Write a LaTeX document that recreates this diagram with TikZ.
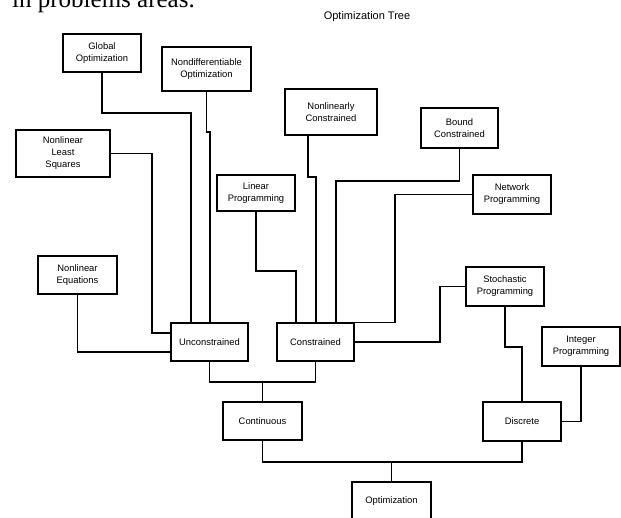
\documentclass[tikz,border=0pt]{standalone}
\usepackage{fontspec}
\setmainfont{Liberation Sans}
\newfontfamily\serifpage{Liberation Serif}
\begin{document}
\begin{tikzpicture}[x=1pt,y=-1pt,
  box/.style={draw,line width=1.3pt,rectangle,inner sep=0pt,align=center,
    font=\fontsize{9.4}{12}\selectfont},
  link/.style={line width=1.3pt}]
\useasboundingbox (0,0) rectangle (621,518);
\clip (0,0) rectangle (621,518);
% clipped running text of the page
\node[anchor=base west,inner sep=0pt,font=\serifpage\fontsize{25}{25}\selectfont] (pagetext) at (12,8) {in problems areas.};
% title
\node[font=\fontsize{11}{13}\selectfont] (title) at (367,17) {Optimization Tree};
% boxes
\node[box,minimum width=78pt,minimum height=38pt] (glob) at (102,53) {Global\\Optimization};
\node[box,minimum width=89pt,minimum height=44pt] (nondiff) at (206.5,69) {Nondifferentiable\\Optimization};
\node[box,minimum width=94pt,minimum height=47pt] (nlls) at (63,153.5) {Nonlinear\\Least\\Squares};
\node[box,minimum width=79pt,minimum height=38pt] (nleq) at (77.5,275) {Nonlinear\\Equations};
\node[box,minimum width=77pt,minimum height=38pt] (uncon) at (209.5,342) {Unconstrained};
\node[box,minimum width=77pt,minimum height=38pt] (con) at (315.5,342) {Constrained};
\node[box,minimum width=92pt,minimum height=46pt] (nlcon) at (331,112) {Nonlinearly\\Constrained};
\node[box,minimum width=78pt,minimum height=36pt] (linprog) at (256,193) {Linear\\Programming};
\node[box,minimum width=77pt,minimum height=40pt] (bound) at (459.5,128) {Bound\\Constrained};
\node[box,minimum width=78pt,minimum height=39pt] (network) at (512,194.5) {Network\\Programming};
\node[box,minimum width=78pt,minimum height=39pt] (stoch) at (505,286.5) {Stochastic\\Programming};
\node[box,minimum width=78pt,minimum height=39pt] (integer) at (581,346.5) {Integer\\Programming};
\node[box,minimum width=78pt,minimum height=39pt] (discrete) at (522,421.5) {Discrete};
\node[box,minimum width=79pt,minimum height=38pt] (cont) at (262.5,421) {Continuous};
\node[box,minimum width=79pt,minimum height=38pt] (opt) at (391.5,501) {Optimization};
% connectors
\draw[link] (glob.south) |- (191,113) -- (191,113 |- uncon.north);
\draw[link] (nondiff.south) |- (210,132) -- (210,132 |- uncon.north);
\draw[link] (nlls.east) -| (152,333) -- (152,333 -| uncon.west);
\draw[link] (nleq.south) |- (uncon.west |- 0,352);
\draw[link] (linprog.south) |- (296,271) -- (296,271 |- con.north);
\draw[link] (308,0 |- nlcon.south) |- (316,177) -- (316,177 |- con.north);
\draw[link] (bound.south) |- (336,181) -- (336,181 |- con.north);
\draw[link] (network.west) -| (395,0 |- con.north) -- (con.north east);
\draw[link] (stoch.west) -| (440,0 |- con.east) -- (con.east);
\draw[link] (stoch.south) |- (522,347) -- (discrete.north);
\draw[link] (integer.south) |- (discrete.east);
\draw[link] (uncon.south) |- (cont.north |- 0,382) -| (con.south);
\draw[link] (cont.north) -- (cont.north |- 0,382);
\draw[link] (cont.south) |- (opt.north |- 0,462) -| (discrete.south);
\draw[link] (opt.north) -- (opt.north |- 0,462);
\end{tikzpicture}
\end{document}
